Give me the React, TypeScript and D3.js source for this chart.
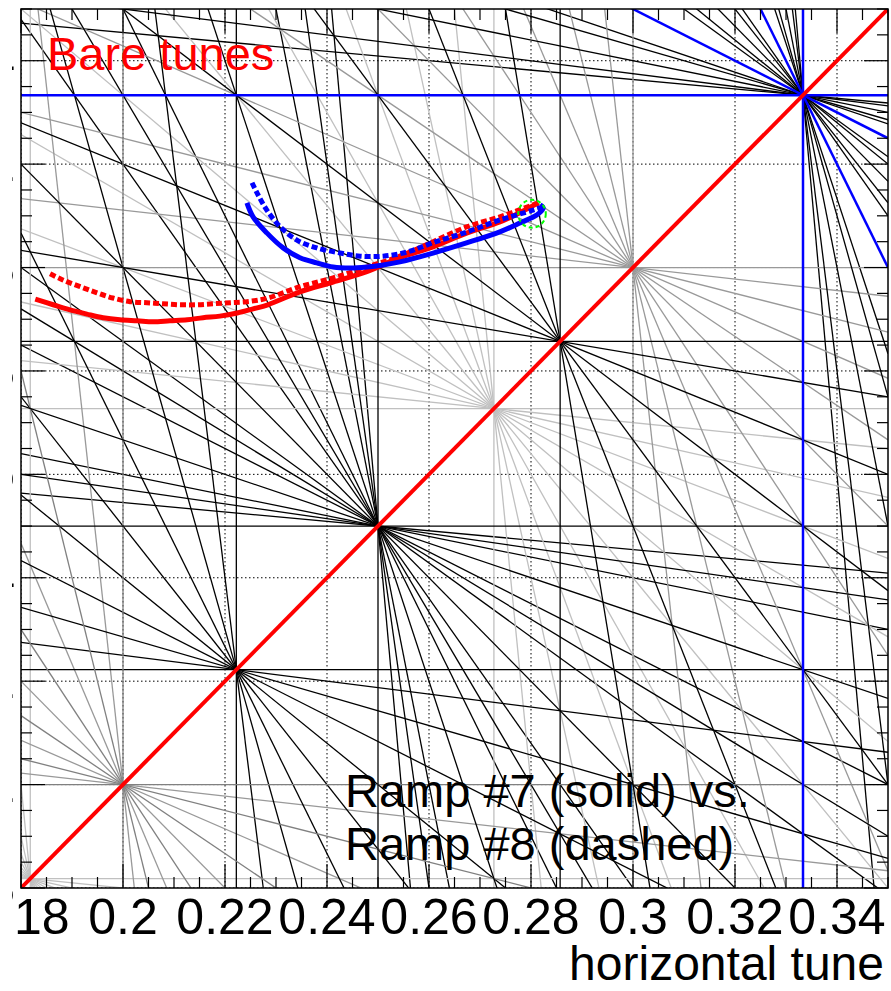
import * as d3 from 'd3';

// tune range (both axes)
const TUNE_MIN = 0.18;
const TUNE_MAX = 0.35;
const MAX_ORDER = 12;
const LABEL_TICKS = [0.18, 0.2, 0.22, 0.24, 0.26, 0.28, 0.3, 0.32, 0.34];

// resonance line colour by order
const ORDER_COLOR: Record<number, string> = {
  3: '#0000ff', 4: '#000000', 5: '#808080', 6: '#000000', 7: '#000000',
  8: '#000000', 9: '#000000', 10: '#999999', 11: '#c0c0c0', 12: '#000000',
};

// Ramp #7 (solid)
const red7: [number, number][] = [
  [0.1828, 0.2939], [0.1863, 0.2928], [0.1896, 0.2918], [0.1929, 0.2910], [0.1961, 0.2903],
  [0.1994, 0.2899], [0.2028, 0.2897], [0.2059, 0.2895], [0.2092, 0.2897], [0.2126, 0.2899],
  [0.2157, 0.2903], [0.2190, 0.2906], [0.2224, 0.2912], [0.2255, 0.2920], [0.2284, 0.2928],
  [0.2347, 0.2953], [0.2412, 0.2972], [0.2478, 0.2992], [0.2543, 0.3019], [0.2608, 0.3040],
  [0.2675, 0.3067], [0.2739, 0.3088], [0.2778, 0.3106], [0.2814, 0.3125],
];
const blue7: [number, number][] = [
  [0.2243, 0.3125], [0.2255, 0.3098], [0.2282, 0.3067], [0.2314, 0.3038], [0.2347, 0.3019],
  [0.2380, 0.3009], [0.2412, 0.3001], [0.2445, 0.2999], [0.2478, 0.3001], [0.2510, 0.3005],
  [0.2543, 0.3011], [0.2608, 0.3028], [0.2675, 0.3048], [0.2739, 0.3069], [0.2778, 0.3086],
  [0.2812, 0.3102], [0.2824, 0.3115], [0.2818, 0.3121],
];
// Ramp #8 (dashed)
const red8: [number, number][] = [
  [0.1857, 0.2988], [0.1882, 0.2976], [0.1916, 0.2963], [0.1949, 0.2951], [0.1980, 0.2941],
  [0.2014, 0.2934], [0.2047, 0.2932], [0.2078, 0.2930], [0.2112, 0.2928], [0.2145, 0.2928],
  [0.2177, 0.2930], [0.2210, 0.2932], [0.2243, 0.2934], [0.2284, 0.2941], [0.2347, 0.2963],
  [0.2412, 0.2980], [0.2478, 0.3001], [0.2543, 0.3022], [0.2608, 0.3050], [0.2675, 0.3079],
  [0.2739, 0.3098], [0.2804, 0.3121], [0.2818, 0.3125],
];
const blue8: [number, number][] = [
  [0.2253, 0.3164], [0.2263, 0.3144], [0.2282, 0.3111], [0.2308, 0.3079], [0.2341, 0.3053],
  [0.2380, 0.3038], [0.2426, 0.3028], [0.2465, 0.3022], [0.2510, 0.3022], [0.2557, 0.3030],
  [0.2608, 0.3048], [0.2675, 0.3069], [0.2739, 0.3092], [0.2804, 0.3111], [0.2822, 0.3117],
];
// bare tunes marker
const bareTune = { x: 0.2802, y: 0.3104, r: 0.0027 };

const W = 891;
const H = 991;
const L = 21, R = 888, T = 9, B = 888;
const FONT = '"Liberation Sans", Arial, Helvetica, sans-serif';

function gcd(a: number, b: number): number {
  return b === 0 ? Math.abs(a) : gcd(b, a % b);
}

interface Res { m: number; n: number; p: number; order: number }

// all sum resonances m*Qx + n*Qy = p crossing the window
function resonances(): Res[] {
  const out: Res[] = [];
  for (let N = 3; N <= MAX_ORDER; N++) {
    for (let p = Math.ceil(TUNE_MIN * N); p <= Math.floor(TUNE_MAX * N); p++) {
      for (let m = 0; m <= N; m++) {
        const n = N - m;
        if (gcd(gcd(m, n), p) !== 1) continue;
        out.push({ m, n, p, order: N });
      }
    }
  }
  return out;
}

export default function App() {
  const x = d3.scaleLinear().domain([TUNE_MIN, TUNE_MAX]).range([L, R]);
  const y = d3.scaleLinear().domain([TUNE_MIN, TUNE_MAX]).range([B, T]);

  const res = resonances().sort((a, b) => b.order - a.order);
  const resLines = res.map((r) => {
    let x1, x2, y1, y2;
    if (r.n === 0) {
      x1 = x2 = r.p / r.m;
      y1 = TUNE_MIN; y2 = TUNE_MAX;
    } else {
      x1 = TUNE_MIN; x2 = TUNE_MAX;
      y1 = (r.p - r.m * x1) / r.n;
      y2 = (r.p - r.m * x2) / r.n;
    }
    return { ...r, x1: x(x1), x2: x(x2), y1: y(y1), y2: y(y2) };
  });

  const line = d3.line<[number, number]>()
    .x((d) => x(d[0]))
    .y((d) => y(d[1]))
    .curve(d3.curveCatmullRom);

  const minorTicks = d3.range(0, 35).map((i) => TUNE_MIN + i * 0.005);
  const fmt = d3.format('~g');

  return (
    <svg width={W} height={H} style={{ position: 'absolute', left: 0, top: 0, background: '#fff' }}>
      <defs>
        <clipPath id="plot"><rect x={L} y={T} width={R - L} height={B - T} /></clipPath>
        <clipPath id="page"><rect x={12} y={0} width={W} height={H} /></clipPath>
      </defs>
      <rect x={0} y={0} width={W} height={H} fill="#fff" />

      <g clipPath="url(#plot)">
        {/* dotted grid */}
        {LABEL_TICKS.map((t) => (
          <g key={'g' + t}>
            <line x1={x(t)} x2={x(t)} y1={T} y2={B} stroke="#000" strokeWidth={1} strokeDasharray="1.5,2.5" />
            <line x1={L} x2={R} y1={y(t)} y2={y(t)} stroke="#000" strokeWidth={1} strokeDasharray="1.5,2.5" />
          </g>
        ))}
        {/* resonance lines */}
        {resLines.map((r, i) => (
          <line key={i} x1={r.x1} y1={r.y1} x2={r.x2} y2={r.y2}
            stroke={ORDER_COLOR[r.order]} strokeWidth={r.order === 3 ? 2.5 : 1.3} />
        ))}
        {/* coupling diagonal */}
        <line x1={x(TUNE_MIN)} y1={y(TUNE_MIN)} x2={x(TUNE_MAX)} y2={y(TUNE_MAX)} stroke="#ff0000" strokeWidth={4} />

        {/* tune ramps */}
        <path d={line(red7) ?? ''} fill="none" stroke="#ff0000" strokeWidth={5} />
        <path d={line(red8) ?? ''} fill="none" stroke="#ff0000" strokeWidth={5} strokeDasharray="6,3" />
        <path d={line(blue7) ?? ''} fill="none" stroke="#0000ff" strokeWidth={5} />
        <path d={line(blue8) ?? ''} fill="none" stroke="#0000ff" strokeWidth={5} strokeDasharray="6,3" />
        <ellipse cx={x(bareTune.x)} cy={y(bareTune.y)} rx={x(bareTune.x + bareTune.r) - x(bareTune.x)}
          ry={y(bareTune.y) - y(bareTune.y + bareTune.r)} fill="none" stroke="#00ff00" strokeWidth={2} strokeDasharray="4,3" />
      </g>

      {/* frame and ticks */}
      <rect x={L} y={T} width={R - L} height={B - T} fill="none" stroke="#000" strokeWidth={1.5} />
      {minorTicks.map((t, i) => {
        const len = i % 4 === 0 ? 24 : 11;
        return (
          <g key={'t' + i} stroke="#000" strokeWidth={1.2}>
            <line x1={x(t)} x2={x(t)} y1={B} y2={B - len} />
            <line x1={x(t)} x2={x(t)} y1={T} y2={T + len} />
            <line x1={L} x2={L + len} y1={y(t)} y2={y(t)} />
            <line x1={R} x2={R - len} y1={y(t)} y2={y(t)} />
          </g>
        );
      })}

      <g clipPath="url(#page)" fontFamily={FONT} fontSize={50} fill="#000">
        {LABEL_TICKS.map((t) => (
          <text key={'xl' + t} x={x(t)} y={934} textAnchor="middle">{fmt(t)}</text>
        ))}
        {LABEL_TICKS.map((t) => (
          <text key={'yl' + t} x={15} y={y(t) + 17} textAnchor="end">{fmt(t)}</text>
        ))}
      </g>
      <text x={884} y={980} textAnchor="end" fontFamily={FONT} fontSize={48}>horizontal tune</text>

      <text x={47} y={70} fontFamily={FONT} fontSize={47} fill="#ff0000">Bare tunes</text>
      <text x={345} y={807} fontFamily={FONT} fontSize={47} fill="#000">Ramp #7 (solid) vs.</text>
      <text x={345} y={860} fontFamily={FONT} fontSize={47} fill="#000">Ramp #8 (dashed)</text>
    </svg>
  );
}
